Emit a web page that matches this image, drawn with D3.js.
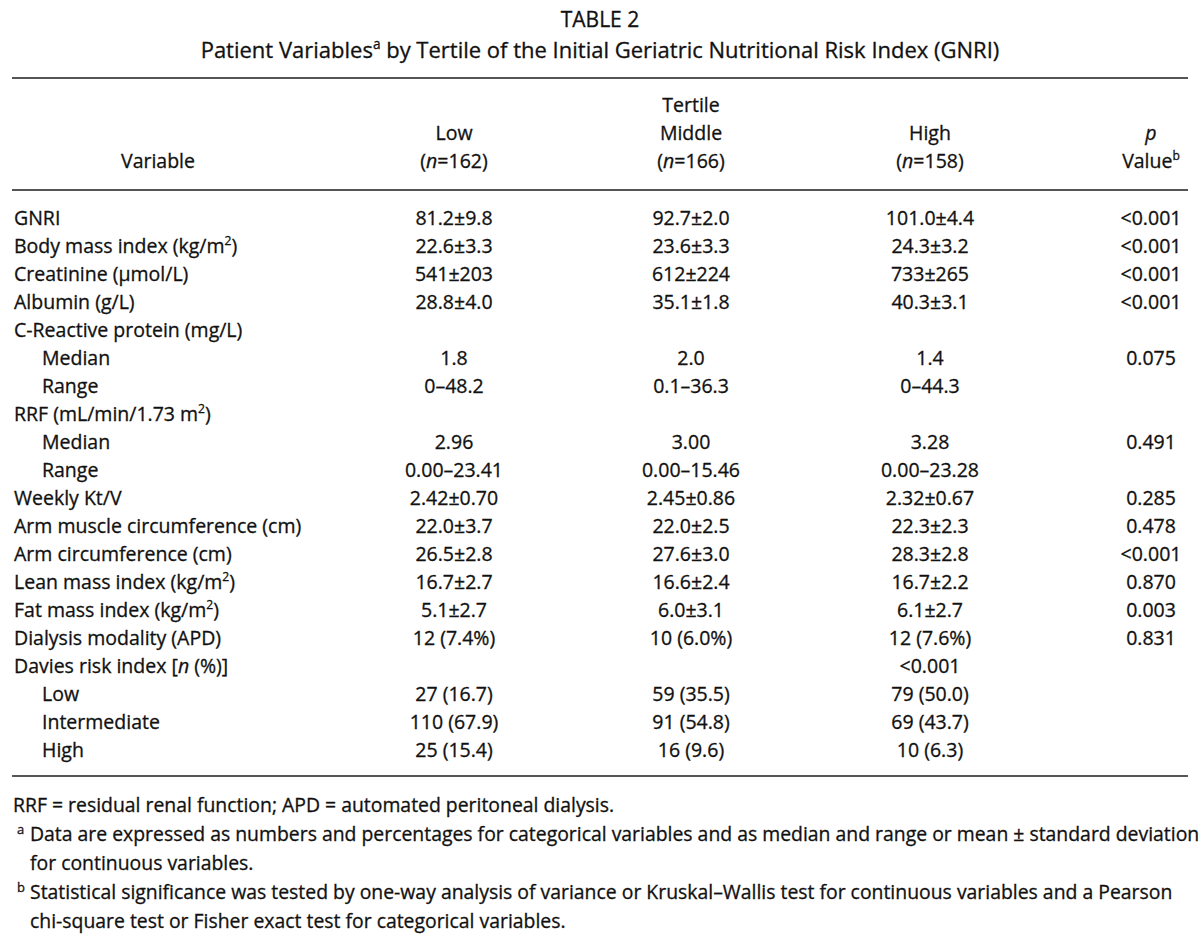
<!DOCTYPE html>
<html>
<head>
<meta charset="utf-8">
<script src="https://cdn.jsdelivr.net/npm/d3@7"></script>
<style>
  body { margin: 0; background: #fff; }
  svg { display: block; font-family: "Open Sans", "Noto Sans", sans-serif; }
  svg text { fill: #111; stroke: #111; stroke-width: 0.3px; }
</style>
</head>
<body>
<svg id="table" width="1200" height="941"></svg>
<script>
// ^x = superscript, _x_ = italic
var titleText = "TABLE 2";
var subtitleText = "Patient Variables^a by Tertile of the Initial Geriatric Nutritional Risk Index (GNRI)";

var headerTop = ["", "", "Tertile", "", ""];
var headerMid = ["", "Low", "Middle", "High", "_p_"];
var headerBot = ["Variable", "(_n_=162)", "(_n_=166)", "(_n_=158)", "Value^b"];

var rowLabels = [
  "GNRI", "Body mass index (kg/m^2)", "Creatinine (µmol/L)", "Albumin (g/L)",
  "C-Reactive protein (mg/L)", "Median", "Range",
  "RRF (mL/min/1.73 m^2)", "Median", "Range",
  "Weekly Kt/V", "Arm muscle circumference (cm)", "Arm circumference (cm)",
  "Lean mass index (kg/m^2)", "Fat mass index (kg/m^2)", "Dialysis modality (APD)",
  "Davies risk index [_n_ (%)]", "Low", "Intermediate", "High"
];
var rowLevel = [0, 0, 0, 0, 0, 1, 1, 0, 1, 1, 0, 0, 0, 0, 0, 0, 0, 1, 1, 1];

var lowValues = [
  "81.2±9.8", "22.6±3.3", "541±203", "28.8±4.0", "", "1.8", "0–48.2",
  "", "2.96", "0.00–23.41", "2.42±0.70", "22.0±3.7", "26.5±2.8",
  "16.7±2.7", "5.1±2.7", "12 (7.4%)", "", "27 (16.7)", "110 (67.9)", "25 (15.4)"
];
var middleValues = [
  "92.7±2.0", "23.6±3.3", "612±224", "35.1±1.8", "", "2.0", "0.1–36.3",
  "", "3.00", "0.00–15.46", "2.45±0.86", "22.0±2.5", "27.6±3.0",
  "16.6±2.4", "6.0±3.1", "10 (6.0%)", "", "59 (35.5)", "91 (54.8)", "16 (9.6)"
];
var highValues = [
  "101.0±4.4", "24.3±3.2", "733±265", "40.3±3.1", "", "1.4", "0–44.3",
  "", "3.28", "0.00–23.28", "2.32±0.67", "22.3±2.3", "28.3±2.8",
  "16.7±2.2", "6.1±2.7", "12 (7.6%)", "<0.001", "79 (50.0)", "69 (43.7)", "10 (6.3)"
];
var pValues = [
  "<0.001", "<0.001", "<0.001", "<0.001", "", "0.075", "",
  "", "0.491", "", "0.285", "0.478", "<0.001",
  "0.870", "0.003", "0.831", "", "", "", ""
];

var footnotes = [
  {mark: "", lines: ["RRF = residual renal function; APD = automated peritoneal dialysis."]},
  {mark: "a", lines: ["Data are expressed as numbers and percentages for categorical variables and as median and range or mean ± standard deviation",
                      "for continuous variables."]},
  {mark: "b", lines: ["Statistical significance was tested by one-way analysis of variance or Kruskal–Wallis test for continuous variables and a Pearson",
                      "chi-square test or Fisher exact test for categorical variables."]}
];

var svg = d3.select("#table");
var width = 1200;
var left = 12, right = 1188;

var columns = ["label", "low", "middle", "high", "p"];
var colX = d3.scaleOrdinal().domain(columns).range([158, 454, 691, 930, 1151]);
var rowY = d3.scaleLinear().domain([0, rowLabels.length - 1]).range([225, 225 + 28 * (rowLabels.length - 1)]);
var headY = d3.scaleLinear().domain([0, 2]).range([112, 168]);
var footY = d3.scaleLinear().domain([0, 4]).range([812, 928]);

// write text with ^sup and _italic_ markup
function rich(sel, str) {
  var parts = str.split(/(\^[^\s]|_[^_]+_)/).filter(function(s) { return s !== ""; });
  parts.forEach(function(p) {
    if (p[0] === "^") {
      sel.append("tspan").attr("baseline-shift", "super").style("font-size", "0.62em").text(p.slice(1));
    } else if (p[0] === "_") {
      sel.append("tspan").style("font-style", "italic").text(p.slice(1, -1));
    } else {
      sel.append("tspan").text(p);
    }
  });
}

svg.append("rect").attr("width", width).attr("height", 941).attr("fill", "#fff");

// title
svg.append("text")
    .attr("x", width / 2).attr("y", 27)
    .attr("text-anchor", "middle")
    .style("font-size", "21px")
    .text(titleText);

svg.append("text")
    .attr("x", width / 2).attr("y", 58)
    .attr("text-anchor", "middle")
    .style("font-size", "22px")
    .call(rich, subtitleText);

// rules
var rules = [78, 190, 776];
svg.selectAll("line.rule")
  .data(rules)
  .enter().append("line")
    .attr("class", "rule")
    .attr("x1", left).attr("x2", right)
    .attr("y1", function(d) { return d; })
    .attr("y2", function(d) { return d; })
    .attr("stroke", "#555")
    .attr("stroke-width", 2);

// header
[headerTop, headerMid, headerBot].forEach(function(row, i) {
  svg.append("g").selectAll("text")
    .data(row)
    .enter().append("text")
      .attr("x", function(d, j) { return colX(columns[j]); })
      .attr("y", headY(i))
      .attr("text-anchor", "middle")
      .style("font-size", "19.5px")
      .each(function(d) { rich(d3.select(this), d); });
});

// body
var body = svg.append("g").attr("class", "body");

var rows = body.selectAll("g.row")
  .data(rowLabels.map(function(label, i) {
    return {label: label, level: rowLevel[i], i: i,
            values: [lowValues[i], middleValues[i], highValues[i], pValues[i]]};
  }))
  .enter().append("g")
    .attr("class", "row")
    .attr("transform", function(d) { return "translate(0," + rowY(d.i) + ")"; })
    .style("font-size", "19.5px");

rows.append("text")
    .attr("x", function(d) { return d.level ? 42 : 14; })
    .each(function(d) { rich(d3.select(this), d.label); });

rows.selectAll("text.val")
  .data(function(d) { return d.values; })
  .enter().append("text")
    .attr("class", "val")
    .attr("x", function(d, j) { return colX(columns[j + 1]); })
    .attr("text-anchor", "middle")
    .text(function(d) { return d; });

// footnotes
var k = 0;
var foot = svg.append("g").style("font-size", "19.4px");
footnotes.forEach(function(f) {
  if (f.mark) {
    foot.append("text")
        .attr("x", 17).attr("y", footY(k) - 7)
        .style("font-size", "13px")
        .text(f.mark);
  }
  f.lines.forEach(function(line) {
    foot.append("text")
        .attr("x", f.mark ? 30 : 13)
        .attr("y", footY(k))
        .text(line);
    k++;
  });
});
</script>
</body>
</html>
